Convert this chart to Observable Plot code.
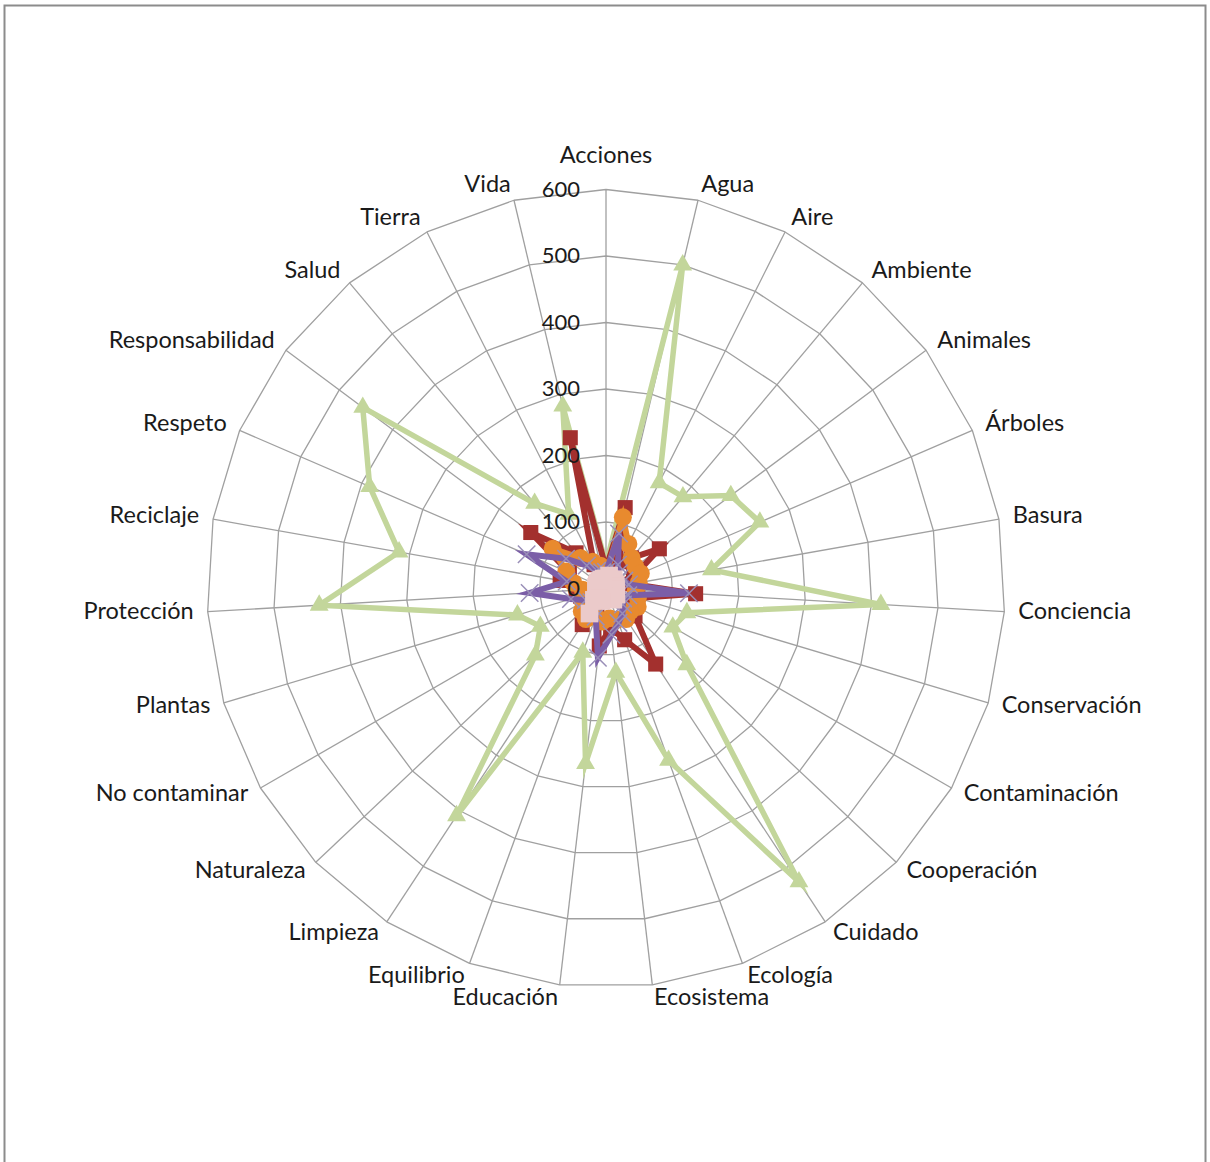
<!DOCTYPE html>
<html><head><meta charset="utf-8">
<script src="https://cdn.jsdelivr.net/npm/d3@7"></script>
<script src="https://cdn.jsdelivr.net/npm/@observablehq/plot@0.6"></script>
<style>
html,body{margin:0;padding:0;background:#fff;}
#chart{position:relative;width:1210px;height:1162px;overflow:hidden;}
</style></head><body><div id="chart"></div>
<script>
const categories = ["Acciones","Agua","Aire","Ambiente","Animales","Árboles","Basura","Conciencia","Conservación","Contaminación","Cooperación","Cuidado","Ecología","Ecosistema","Educación","Equilibrio","Limpieza","Naturaleza","No contaminar","Plantas","Protección","Reciclaje","Respeto","Responsabilidad","Salud","Tierra","Vida"];
const verde   = [37, 500, 178, 180, 234, 252, 161, 414, 127, 116, 167, 528, 275, 127, 265, 102, 409, 146, 114, 139, 432, 316, 387, 456, 167, 125, 282];
const rojo    = [30, 125, 45, 60, 100, 45, 40, 135, 50, 45, 60, 136, 82, 60, 87, 40, 65, 45, 35, 40, 45, 70, 60, 141, 70, 40, 233];
const naranja = [20, 110, 75, 60, 55, 57, 50, 45, 50, 55, 50, 55, 50, 45, 50, 45, 55, 50, 40, 35, 35, 50, 65, 100, 60, 45, 35];
const morado  = [25, 85, 40, 30, 25, 30, 35, 125, 35, 30, 35, 45, 55, 70, 105, 45, 35, 30, 35, 55, 115, 60, 130, 75, 45, 30, 25];
const rosa    = [15, 20, 15, 18, 15, 15, 15, 15, 15, 18, 15, 20, 15, 15, 15, 20, 45, 25, 15, 15, 15, 15, 15, 15, 15, 15, 15];
const tickValues = [0, 100, 200, 300, 400, 500, 600];

const N = categories.length;
const W = 1210, H = 1162, cx = 605.5, cy = 588, R = 399, VMAX = 600;
const k = VMAX / R;               // data units per pixel
const ang = i => 2 * Math.PI * i / N;
const polar = (v, i) => ({x: v * Math.sin(ang(i)), y: v * Math.cos(ang(i))});

function ring(values, name) {
  return values.map((v, i) => ({serie: name, i, v, ...polar(v, i)}));
}
function closed(rows) { return rows.concat([rows[0]]); }

const series = [
  {name: "verde", values: verde, color: "#c3d69b", symbol: "triangle", r: 7, sw: 5.5},
  {name: "rojo", values: rojo, color: "#a3302e", symbol: "square", r: 8.5, sw: 6},
  {name: "naranja", values: naranja, color: "#e88a2e", symbol: "circle", r: 9, sw: 6},
  {name: "morado", values: morado, color: "#7b5ea7", symbol: "times", r: 8, sw: 6},
  {name: "rosa", values: rosa, color: "#ebcaca", symbol: "square", r: 10, sw: 4}
];

const gridRows = [];
tickValues.filter(t => t > 0).forEach(t => {
  for (let i = 0; i <= N; i++) gridRows.push({t, ...polar(t, i % N)});
});
const spokes = categories.map((c, i) => ({...polar(VMAX, i)}));

const labels = categories.map((c, i) => {
  const s = Math.sin(ang(i)), co = Math.cos(ang(i));
  const end = polar(VMAX, i);
  let x, y, anchor;
  if (Math.abs(s) < 0.1) {
    x = end.x; y = end.y + 34 * k; anchor = "middle";
  } else {
    x = end.x + 14 * s * k;
    y = end.y + (14.5 * co + 1.5) * k;
    anchor = s > 0 ? "start" : "end";
  }
  return {c, x, y, anchor};
});
const tickRows = tickValues.map(t => ({t, x: -26 * k, y: t}));

const marks = [
  Plot.frame({stroke: "#8c8c8c", strokeWidth: 2, insetLeft: 4, insetTop: 5, insetRight: 5, insetBottom: -10}),
  Plot.line(gridRows, {x: "x", y: "y", z: "t", stroke: "#a0a0a0", strokeWidth: 1.3}),
  Plot.link(spokes, {x1: 0, y1: 0, x2: "x", y2: "y", stroke: "#a0a0a0", strokeWidth: 1.3})
];
series.forEach(s => {
  const rows = ring(s.values, s.name);
  marks.push(Plot.line(closed(rows), {x: "x", y: "y", stroke: s.color, strokeWidth: s.sw, strokeLinejoin: "miter", strokeMiterlimit: 6}));
  if (s.symbol === "times") {
    marks.push(Plot.dot(rows, {x: "x", y: "y", symbol: "times", r: s.r, stroke: "#9a8fb8", strokeWidth: 1.5}));
  } else {
    marks.push(Plot.dot(rows, {x: "x", y: "y", symbol: s.symbol, r: s.r, fill: s.color, stroke: "none"}));
  }
});
marks.push(
  Plot.text(tickRows, {x: "x", y: "y", text: d => String(d.t), textAnchor: "end", lineAnchor: "middle", fontSize: 22, fill: "#1a1a1a"}),
  ...["start", "middle", "end"].map(a => Plot.text(labels.filter(d => d.anchor === a), {x: "x", y: "y", text: "c", textAnchor: a, lineAnchor: "middle", fontSize: 23.5, fill: "#1a1a1a"}))
);

const chart = Plot.plot({
  width: W, height: H,
  margin: 0,
  style: {fontFamily: "Lato, 'Open Sans', sans-serif", background: "#fff"},
  x: {domain: [-cx * k, (W - cx) * k], range: [0, W], axis: null},
  y: {domain: [-(H - cy) * k, cy * k], range: [H, 0], axis: null},
  marks
});
document.getElementById("chart").appendChild(chart);
</script></body></html>
